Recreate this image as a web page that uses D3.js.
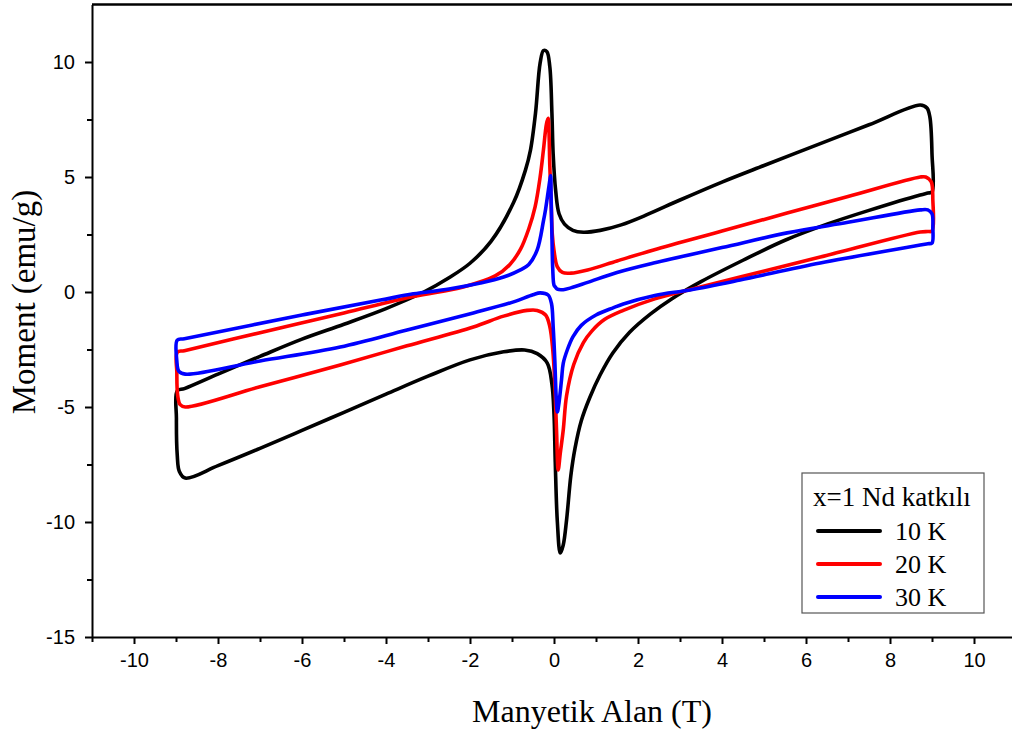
<!DOCTYPE html>
<html><head><meta charset="utf-8">
<script src="https://cdn.jsdelivr.net/npm/d3@7"></script>
<style>html,body{margin:0;padding:0;background:#fff;overflow:hidden}</style>
</head><body>
<svg id="c" width="1012" height="736"></svg>
<script>
// ---- data (field in T, moment in emu/g), each loop traced clockwise ----
const field10 = [9.0, 9.0, 8.95, 8.88, 8.72, 7.5, 6.34, 5.0, 4.0, 3.0, 2.2, 1.6, 1.1, 0.7, 0.45, 0.25, 0.12, 0.04, -0.02, -0.05, -0.1, -0.17, -0.25, -0.33, -0.44, -0.56, -0.68, -0.96, -1.5, -2.0, -2.5, -3.1, -4.0, -5.0, -6.0, -7.0, -8.0, -8.8, -8.97, -8.99, -8.97, -8.92, -8.78, -8.0, -7.0, -6.0, -5.0, -4.0, -3.0, -2.0, -1.2, -0.7, -0.4, -0.16, -0.05, 0.0, 0.03, 0.08, 0.15, 0.22, 0.3, 0.4, 0.5, 0.65, 0.85, 1.1, 1.4, 1.8, 2.3, 2.8, 3.5, 4.5, 5.5, 6.5, 7.5, 8.72, 8.9];
const moment10 = [4.35, 6.0, 7.6, 8.0, 8.13, 7.27, 6.45, 5.5, 4.78, 4.0, 3.35, 2.92, 2.68, 2.6, 2.68, 2.95, 3.4, 4.4, 6.0, 7.8, 9.8, 10.45, 10.5, 9.96, 7.78, 6.17, 5.3, 3.9, 2.2, 1.25, 0.62, 0.0, -0.72, -1.4, -2.05, -2.8, -3.57, -4.2, -4.3, -5.5, -7.1, -7.8, -8.09, -7.55, -6.8, -6.02, -5.23, -4.44, -3.66, -2.95, -2.6, -2.52, -2.68, -3.09, -4.0, -5.3, -7.4, -10.0, -11.35, -11.0, -9.9, -8.0, -6.8, -5.6, -4.6, -3.6, -2.65, -1.75, -0.95, -0.3, 0.45, 1.38, 2.25, 2.95, 3.55, 4.22, 4.3];

const field20 = [9.0, 9.02, 8.98, 8.85, 8.72, 7.0, 5.55, 4.0, 2.37, 1.5, 0.8, 0.4, 0.2, 0.08, 0.0, -0.04, -0.07, -0.1, -0.12, -0.14, -0.18, -0.25, -0.33, -0.45, -0.6, -0.8, -1.05, -1.4, -2.16, -3.35, -5.0, -7.0, -8.8, -8.97, -8.98, -8.96, -8.9, -8.78, -7.0, -5.09, -3.5, -1.92, -1.2, -0.64, -0.4, -0.2, -0.1, -0.03, 0.02, 0.06, 0.1, 0.15, 0.22, 0.3, 0.47, 0.7, 0.9, 1.2, 1.65, 2.4, 3.2, 4.43, 6.34, 8.72, 8.9];
const moment20 = [2.65, 4.0, 4.8, 5.0, 5.0, 4.15, 3.43, 2.65, 1.83, 1.35, 0.96, 0.82, 0.85, 1.09, 1.8, 2.5, 4.0, 5.5, 7.0, 7.55, 7.3, 6.2, 5.0, 3.7, 2.75, 1.85, 1.2, 0.7, 0.22, -0.2, -0.91, -1.77, -2.55, -2.62, -3.5, -4.5, -4.9, -5.0, -4.12, -3.17, -2.34, -1.52, -1.05, -0.8, -0.8, -1.0, -1.5, -2.5, -4.0, -6.0, -7.74, -7.0, -6.0, -4.5, -3.15, -2.2, -1.7, -1.2, -0.8, -0.3, 0.09, 0.65, 1.52, 2.61, 2.63];

const field30 = [9.0, 9.02, 9.0, 8.9, 8.72, 7.0, 5.55, 4.0, 2.37, 1.5, 0.8, 0.4, 0.22, 0.08, 0.03, 0.0, -0.03, -0.05, -0.07, -0.08, -0.12, -0.2, -0.25, -0.4, -0.6, -0.8, -1.2, -1.75, -2.5, -3.35, -4.13, -6.0, -8.8, -8.97, -8.98, -8.93, -8.78, -7.0, -5.09, -3.5, -1.92, -1.0, -0.5, -0.33, -0.14, -0.06, -0.02, 0.02, 0.05, 0.08, 0.12, 0.18, 0.22, 0.32, 0.45, 0.65, 1.0, 1.42, 1.65, 2.4, 3.24, 4.43, 6.34, 8.72, 8.9];
const moment30 = [2.13, 2.8, 3.4, 3.57, 3.57, 3.03, 2.57, 1.93, 1.26, 0.85, 0.42, 0.18, 0.1, 0.12, 0.22, 0.3, 1.0, 2.5, 4.3, 5.05, 4.6, 3.6, 3.1, 1.83, 1.2, 0.96, 0.65, 0.39, 0.13, -0.08, -0.35, -1.0, -2.03, -2.09, -3.0, -3.45, -3.57, -3.0, -2.39, -1.65, -0.91, -0.45, -0.12, -0.04, -0.13, -0.5, -1.5, -3.0, -4.5, -5.22, -4.8, -3.8, -3.1, -2.5, -1.95, -1.45, -1.0, -0.68, -0.52, -0.15, 0.09, 0.52, 1.26, 2.04, 2.1];

const seriesNames = ["10 K", "20 K", "30 K"];
const seriesColors = ["#000000", "#ff0000", "#0000ff"];
const legendTitle = "x=1 Nd katkılı";
const xMajorTicks = [-10, -8, -6, -4, -2, 0, 2, 4, 6, 8, 10];
const xMinorTicks = [-11, -9, -7, -5, -3, -1, 1, 3, 5, 7, 9, 11];
const yMajorTicks = [-15, -10, -5, 0, 5, 10];
const yMinorTicks = [-12.5, -7.5, -2.5, 2.5, 7.5];
const xTitle = "Manyetik Alan (T)";
const yTitle = "Moment (emu/g)";

// ---- layout ----
const svg = d3.select("#c");
const x = d3.scaleLinear().domain([-11, 11]).range([92, 1016]);
const y = d3.scaleLinear().domain([-15, 12.5]).range([637, 4.5]);

const loops = [
  {name: seriesNames[0], color: seriesColors[0], xs: field10, ys: moment10},
  {name: seriesNames[1], color: seriesColors[1], xs: field20, ys: moment20},
  {name: seriesNames[2], color: seriesColors[2], xs: field30, ys: moment30}
];

const line = d3.line()
  .x(d => x(d[0])).y(d => y(d[1]))
  .curve(d3.curveCatmullRomClosed.alpha(0.5));

svg.append("g").selectAll("path").data(loops).join("path")
  .attr("d", s => line(s.xs.map((v, i) => [v, s.ys[i]])))
  .attr("fill", "none")
  .attr("stroke", s => s.color)
  .attr("stroke-width", 3.6)
  .attr("stroke-linejoin", "round")
  .attr("stroke-linecap", "round");

// ---- axes ----
const tickFont = "'Liberation Sans', Arial, sans-serif";
const xAxis = d3.axisBottom(x).tickValues(xMajorTicks).tickSize(7).tickPadding(9).tickSizeOuter(0)
  .tickFormat(d => d < 0 ? "-" + Math.abs(d) : d);
svg.append("g").attr("transform", `translate(0,${y(-15)})`).call(xAxis);
const xMinor = d3.axisBottom(x).tickValues(xMinorTicks).tickSize(5).tickFormat("").tickSizeOuter(0);
svg.append("g").attr("transform", `translate(0,${y(-15)})`).call(xMinor).select(".domain").remove();

const yAxis = d3.axisLeft(y).tickValues(yMajorTicks).tickSize(7).tickPadding(10).tickSizeOuter(0)
  .tickFormat(d => d < 0 ? "-" + Math.abs(d) : d);
svg.append("g").attr("transform", `translate(${x(-11)},0)`).call(yAxis);
const yMinor = d3.axisLeft(y).tickValues(yMinorTicks).tickSize(5).tickFormat("").tickSizeOuter(0);
svg.append("g").attr("transform", `translate(${x(-11)},0)`).call(yMinor).select(".domain").remove();

svg.selectAll(".domain, .tick line").attr("stroke", "#000").attr("stroke-width", 2);
svg.selectAll(".tick text").attr("font-family", tickFont).attr("font-size", 20).attr("fill", "#000");

// top frame line
svg.append("line").attr("x1", x(-11)).attr("x2", 1012).attr("y1", y(12.5)).attr("y2", y(12.5))
  .attr("stroke", "#000").attr("stroke-width", 2.5);

// ---- titles ----
const serif = "'Liberation Serif', 'Times New Roman', serif";
svg.append("text").attr("x", 592).attr("y", 722).attr("text-anchor", "middle")
  .attr("font-family", serif).attr("font-size", 32).text(xTitle);
svg.append("text").attr("transform", "translate(35,302) rotate(-90)").attr("text-anchor", "middle")
  .attr("font-family", serif).attr("font-size", 33).text(yTitle);

// ---- legend ----
const lg = svg.append("g");
lg.append("rect").attr("x", 802).attr("y", 473).attr("width", 182).attr("height", 140)
  .attr("fill", "#fff").attr("stroke", "#555").attr("stroke-width", 1.2);
lg.append("text").attr("x", 813).attr("y", 506).attr("font-family", serif).attr("font-size", 27).text(legendTitle);
const rows = lg.selectAll("g.row").data(loops).join("g").attr("class", "row")
  .attr("transform", (d, i) => `translate(0,${531 + i * 33})`);
rows.append("line").attr("x1", 818).attr("x2", 880).attr("y1", 0).attr("y2", 0)
  .attr("stroke", d => d.color).attr("stroke-width", 4).attr("stroke-linecap", "round");
rows.append("text").attr("x", 895).attr("y", 9).attr("font-family", serif).attr("font-size", 26).text(d => d.name);
</script>
</body></html>
